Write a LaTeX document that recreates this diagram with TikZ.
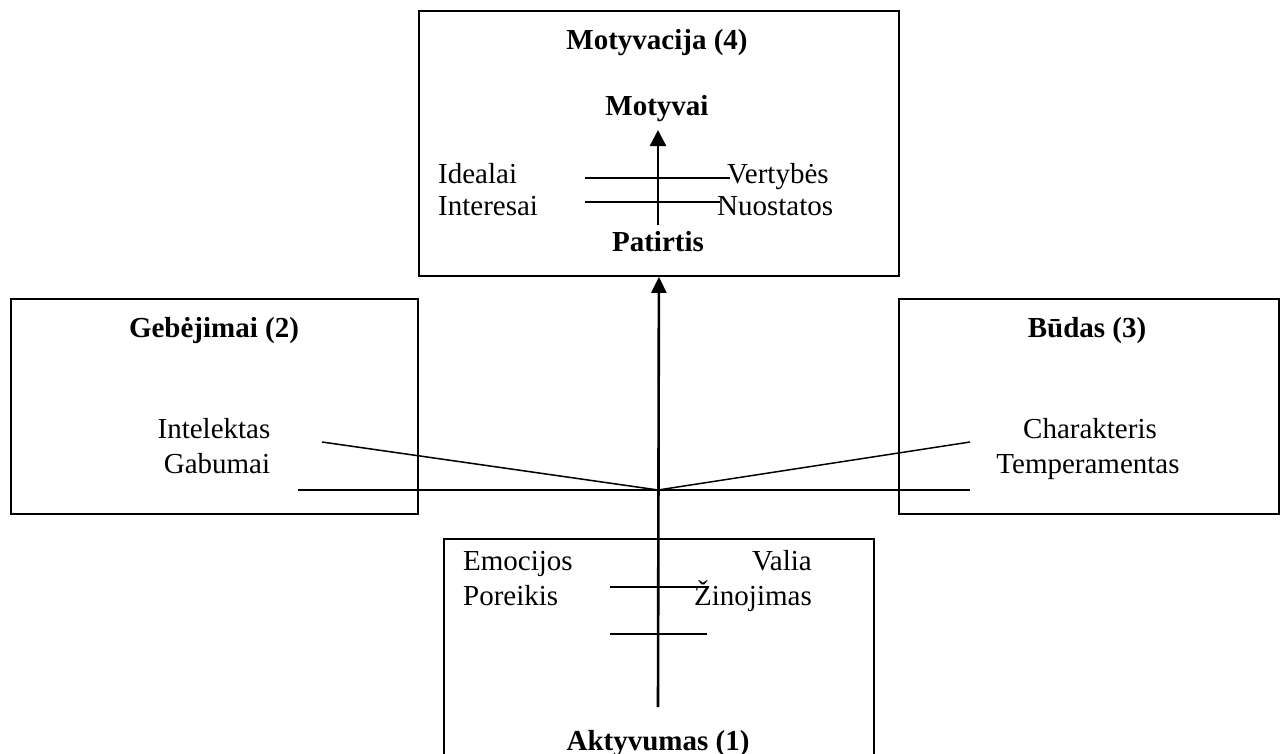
\documentclass[tikz,border=0pt]{standalone}
\usepackage{fontspec}
\setmainfont{Liberation Serif}
\usetikzlibrary{arrows.meta}
\begin{document}
\begin{tikzpicture}[x=1pt,y=-1pt,
  box/.style={draw, line width=1.8pt, inner sep=0pt, anchor=north west},
  txt/.style={inner sep=0pt, font=\fontsize{29}{33}\selectfont},
  btxt/.style={inner sep=0pt, font=\fontsize{29}{33}\selectfont\bfseries},
  thin/.style={line width=1.5pt},
  mainarrow/.style={line width=2.6pt, -{Triangle[length=16pt,width=15pt]}},
  innerarrow/.style={line width=2.4pt, -{Triangle[length=16pt,width=16pt]}}]
\useasboundingbox (0,0) rectangle (1288,753);
% boxes
\node[box, minimum width=480pt, minimum height=265pt] (motbox) at (418,10) {};
\node[box, minimum width=407pt, minimum height=215pt] (gebbox) at (10,298) {};
\node[box, minimum width=380pt, minimum height=215pt] (budbox) at (898,298) {};
\node[box, minimum width=430pt, minimum height=262pt] (aktbox) at (443,538) {};
% top box texts
\node[btxt, anchor=base] (motyvacija) at (657,49) {Motyvacija (4)};
\node[btxt, anchor=base] (motyvai) at (657,115) {Motyvai};
\node[btxt, anchor=base] (patirtis) at (658,251) {Patirtis};
\node[txt, anchor=base west] (idealai) at (438,183) {Idealai};
\node[txt, anchor=base west] (interesai) at (438,215) {Interesai};
\node[txt, anchor=base west] (vertybes) at (727,183) {Vertybės};
\node[txt, anchor=base west] (nuostatos) at (717,215) {Nuostatos};
% left box texts
\node[btxt, anchor=base] (gebejimai) at (214,337) {Gebėjimai (2)};
\node[txt, anchor=base] (intelektas) at (214,438) {Intelektas};
\node[txt, anchor=base] (gabumai) at (217,473) {Gabumai};
% right box texts
\node[btxt, anchor=base] (budas) at (1087,337) {Būdas (3)};
\node[txt, anchor=base] (charakteris) at (1090,438) {Charakteris};
\node[txt, anchor=base] (temperamentas) at (1088,473) {Temperamentas};
% bottom box texts
\node[txt, anchor=base west] (emocijos) at (463,570) {Emocijos};
\node[txt, anchor=base west] (poreikis) at (463,605) {Poreikis};
\node[txt, anchor=base east] (valia) at (812,570) {Valia};
\node[txt, anchor=base east] (zinojimas) at (812,605) {Žinojimas};
\node[btxt, anchor=base] (aktyvumas) at (658,750) {Aktyvumas (1)};
% coordinates
\coordinate (hub) at (658,490);
\coordinate (vbot) at (658,707);
\coordinate (ia) at (658,225);
\coordinate (ib) at (658,130);
\coordinate (ml1a) at (585,178);
\coordinate (ml1b) at (730,178);
\coordinate (ml2a) at (585,202);
\coordinate (ml2b) at (720,202);
\coordinate (gl1) at (322,442);
\coordinate (gl2) at (298,490);
\coordinate (bl1) at (970,442);
\coordinate (bl2) at (970,490);
\coordinate (al1a) at (610,587);
\coordinate (al1b) at (707,587);
\coordinate (al2a) at (610,634);
\coordinate (al2b) at (707,634);
% connectors
\draw[mainarrow] (vbot) -- (motbox.south);
\draw[innerarrow] (ia) -- (ib);
\draw[thin] (ml1a) -- (ml1b);
\draw[thin] (ml2a) -- (ml2b);
\draw[thin] (gl1) -- (hub);
\draw[thin] (bl1) -- (hub);
\draw[thin] (gl2) -- (bl2);
\draw[thin] (al1a) -- (al1b);
\draw[thin] (al2a) -- (al2b);
\end{tikzpicture}
\end{document}
